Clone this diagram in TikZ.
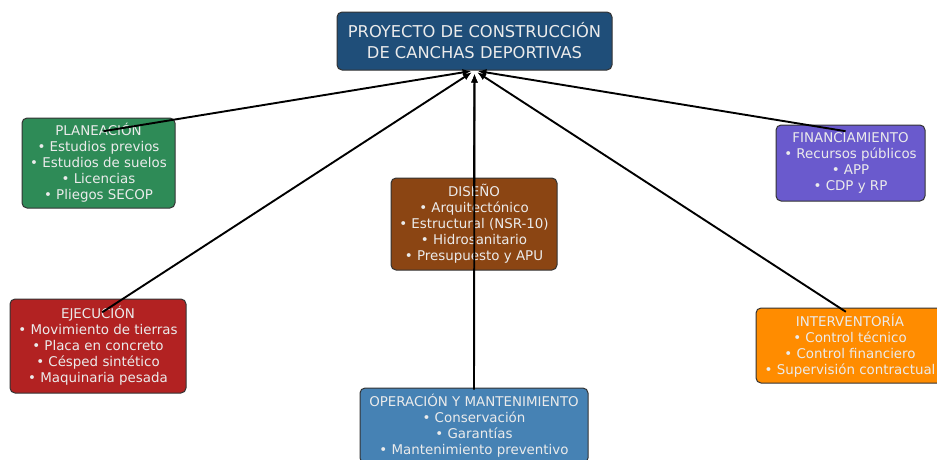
\documentclass[tikz,border=0pt]{standalone}
\usepackage{fontspec}
\setmainfont{DejaVu Sans}
\usepackage{xcolor}
\usepackage{tikz}
\usetikzlibrary{arrows.meta}

\definecolor{raizcol}{HTML}{1F4E79}
\definecolor{plancol}{HTML}{2E8B57}
\definecolor{discol}{HTML}{8B4513}
\definecolor{fincol}{HTML}{6A5ACD}
\definecolor{ejecol}{HTML}{B22222}
\definecolor{intcol}{HTML}{FF8C00}
\definecolor{opcol}{HTML}{4682B4}

\begin{document}
\begin{tikzpicture}[x=1pt, y=-1pt,
    caja/.style={draw=black!80, line width=1pt, rounded corners=5pt, text=white!92!black,
                 align=center, inner sep=0pt, font=\fontsize{13.4}{16}\selectfont},
    flecha/.style={-{Latex[length=9pt,width=7pt]}, line width=1.9pt,
                   shorten <=5pt, shorten >=3pt}]
    \useasboundingbox (0,0) rectangle (937,459);
    \clip (0,0) rectangle (937,459);

    % raiz
    \node[caja, fill=raizcol, minimum width=275pt, minimum height=58pt,
          font=\fontsize{16.3}{21}\selectfont] (raiz) at (474.5,41)
          {PROYECTO DE CONSTRUCCIÓN\\DE CANCHAS DEPORTIVAS};

    % fases
    \node[caja, fill=plancol, minimum width=153pt, minimum height=90pt] (plan) at (98.5,163)
          {PLANEACIÓN\\• Estudios previos\\• Estudios de suelos\\• Licencias\\• Pliegos SECOP};
    \node[caja, fill=discol, minimum width=166pt, minimum height=92pt] (dis) at (474,224)
          {DISEÑO\\• Arquitectónico\\• Estructural (NSR-10)\\• Hidrosanitario\\• Presupuesto y APU};
    \node[caja, fill=fincol, minimum width=149pt, minimum height=76pt] (fin) at (850.5,163)
          {FINANCIAMIENTO\\• Recursos públicos\\• APP\\• CDP y RP};
    \node[caja, fill=ejecol, minimum width=176pt, minimum height=94pt] (eje) at (98,346)
          {EJECUCIÓN\\• Movimiento de tierras\\• Placa en concreto\\• Césped sintético\\• Maquinaria pesada};
    \node[caja, fill=intcol, minimum width=188pt, minimum height=75pt] (int) at (850,345.5)
          {INTERVENTORÍA\\• Control técnico\\• Control financiero\\• Supervisión contractual};
    \node[caja, fill=opcol, minimum width=228pt, minimum height=75pt] (op) at (474,425.5)
          {OPERACIÓN Y MANTENIMIENTO\\• Conservación\\• Garantías\\• Mantenimiento preventivo};

    % flechas hacia la raiz
    \foreach \f in {plan,dis,fin,eje,int,op}
        \draw[flecha] ([yshift=31pt]\f.center) -- (raiz.south);
\end{tikzpicture}
\end{document}
